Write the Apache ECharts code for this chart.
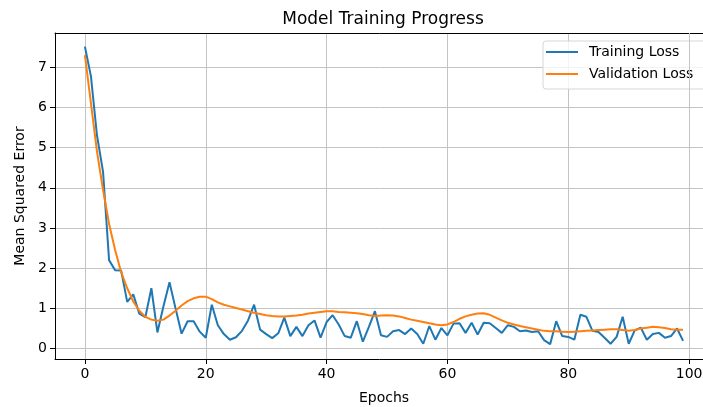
<!DOCTYPE html>
<html>
<head>
<meta charset="utf-8">
<script src="https://cdn.jsdelivr.net/npm/echarts@6/dist/echarts.min.js"></script>
<style>
html,body{margin:0;padding:0;background:#fff;}
#chart{width:703px;height:407px;}
</style>
</head>
<body>
<div id="chart"></div>
<script>
var trainingLoss = [
  7.51, 6.77, 5.30, 4.40, 2.20, 1.95, 1.94, 1.16, 1.35, 0.87,
  0.78, 1.50, 0.40, 1.05, 1.65, 1.00, 0.37, 0.68, 0.68, 0.42,
  0.27, 1.09, 0.58, 0.36, 0.22, 0.28, 0.44, 0.70, 1.09, 0.47,
  0.36, 0.26, 0.38, 0.77, 0.31, 0.54, 0.31, 0.58, 0.70, 0.27,
  0.66, 0.83, 0.60, 0.31, 0.27, 0.68, 0.17, 0.54, 0.93, 0.33,
  0.29, 0.43, 0.46, 0.36, 0.50, 0.36, 0.12, 0.56, 0.22, 0.51,
  0.33, 0.62, 0.63, 0.39, 0.64, 0.35, 0.64, 0.63, 0.51, 0.39,
  0.58, 0.54, 0.43, 0.45, 0.41, 0.43, 0.21, 0.11, 0.68, 0.31,
  0.29, 0.22, 0.84, 0.79, 0.44, 0.41, 0.27, 0.12, 0.29, 0.79,
  0.12, 0.45, 0.52, 0.22, 0.36, 0.39, 0.27, 0.31, 0.50, 0.19
];
var validationLoss = [
  7.30, 6.10, 4.90, 3.95, 3.10, 2.45, 1.90, 1.50, 1.17, 0.94,
  0.79, 0.72, 0.69, 0.72, 0.82, 0.94, 1.07, 1.18, 1.25, 1.29,
  1.29, 1.23, 1.15, 1.09, 1.05, 1.01, 0.97, 0.93, 0.89, 0.86,
  0.83, 0.81, 0.80, 0.80, 0.81, 0.82, 0.84, 0.87, 0.89, 0.91,
  0.93, 0.93, 0.91, 0.90, 0.89, 0.88, 0.86, 0.83, 0.81, 0.82,
  0.83, 0.82, 0.80, 0.76, 0.72, 0.69, 0.66, 0.63, 0.60, 0.58,
  0.60, 0.66, 0.74, 0.80, 0.84, 0.87, 0.88, 0.84, 0.77, 0.70,
  0.64, 0.60, 0.56, 0.53, 0.50, 0.47, 0.44, 0.43, 0.43, 0.42,
  0.41, 0.42, 0.43, 0.44, 0.45, 0.46, 0.47, 0.48, 0.48, 0.46,
  0.44, 0.46, 0.50, 0.52, 0.54, 0.53, 0.51, 0.48, 0.47, 0.47
];
var xTicks = [0, 20, 40, 60, 80, 100];
var yTicks = [0, 1, 2, 3, 4, 5, 6, 7];
var seriesNames = ['Training Loss', 'Validation Loss'];

function pairs(arr) {
  return arr.map(function (v, i) { return [i, v]; });
}

var FONT = 'DejaVu Sans';
var GRID_COLOR = '#c4c4c4';
var chart = echarts.init(document.getElementById('chart'), null, {renderer: 'canvas'});
var option = {
  animation: false,
  backgroundColor: '#fff',
  textStyle: {fontFamily: FONT},
  grid: {left: 55, top: 33, width: 658, height: 326, containLabel: false, outerBoundsMode: 'none'},
  graphic: [{
    type: 'text', x: 383, y: 20,
    style: {text: 'Model Training Progress', font: '17px "DejaVu Sans"', fill: '#000',
            textAlign: 'center', textVerticalAlign: 'middle'}
  }],
  legend: {
    data: seriesNames,
    orient: 'vertical',
    left: 543, top: 41,
    padding: [3, 30, 7, 3],
    itemGap: 6,
    itemWidth: 32, itemHeight: 2,
    icon: 'rect',
    borderColor: '#d6d6d6', borderWidth: 1, borderRadius: 3,
    backgroundColor: 'rgba(255,255,255,0.8)',
    textStyle: {fontFamily: FONT, fontSize: 14, color: '#000', lineHeight: 16, padding: [0, 0, 0, 6]}
  },
  xAxis: [{
    type: 'value', min: -4.95, max: 103.95,
    name: 'Epochs', nameLocation: 'middle', nameGap: 32,
    nameTextStyle: {fontFamily: FONT, fontSize: 14, color: '#000'},
    axisLine: {show: true, onZero: false, lineStyle: {color: '#000', width: 1}},
    axisTick: {show: true, length: 5, lineStyle: {color: '#000'}, customValues: xTicks},
    axisLabel: {customValues: xTicks, fontFamily: FONT, fontSize: 14, color: '#000', margin: 8},
    splitLine: {show: true, showMinLine: true, showMaxLine: false, lineStyle: {color: GRID_COLOR, width: 1}}
  }, {
    type: 'value', position: 'top', min: -4.95, max: 103.95,
    axisLine: {show: true, onZero: false, lineStyle: {color: '#000', width: 1}},
    axisTick: {show: false}, axisLabel: {show: false}, splitLine: {show: false}
  }],
  yAxis: [{
    type: 'value', min: -0.26, max: 7.85,
    name: 'Mean Squared Error', nameLocation: 'middle', nameGap: 28,
    nameTextStyle: {fontFamily: FONT, fontSize: 14, color: '#000'},
    axisLine: {show: true, onZero: false, lineStyle: {color: '#000', width: 1}},
    axisTick: {show: true, length: 5, lineStyle: {color: '#000'}, customValues: yTicks},
    axisLabel: {customValues: yTicks, fontFamily: FONT, fontSize: 14, color: '#000', margin: 8},
    splitLine: {show: true, lineStyle: {color: GRID_COLOR, width: 1}}
  }],
  series: [{
    name: seriesNames[0], type: 'line', data: pairs(trainingLoss),
    showSymbol: false, symbol: 'none', color: '#1f77b4',
    lineStyle: {width: 2, color: '#1f77b4'}, z: 2,
    markLine: {
      silent: true, symbol: 'none', animation: false,
      label: {show: false},
      lineStyle: {color: GRID_COLOR, width: 1, type: 'solid'},
      emphasis: {disabled: true},
      data: [{xAxis: xTicks[xTicks.length - 1]}]
    }
  }, {
    name: seriesNames[1], type: 'line', data: pairs(validationLoss),
    showSymbol: false, symbol: 'none', color: '#ff7f0e',
    lineStyle: {width: 2, color: '#ff7f0e'}, z: 3
  }]
};
chart.setOption(option);
</script>
</body>
</html>
